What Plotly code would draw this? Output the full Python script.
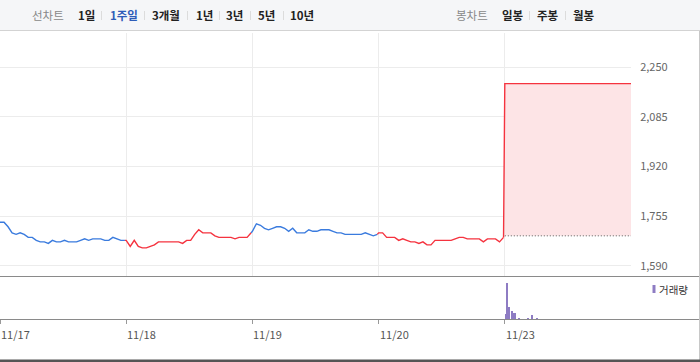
import plotly.graph_objects as go

# ---------------- data ----------------
dates = ['11/17', '11/18', '11/19', '11/20', '11/23']
day1 = [1735, 1735, 1720, 1700, 1695, 1700, 1695, 1685, 1685, 1675, 1670, 1670, 1665, 1675, 1670, 1670,
        1675, 1670, 1670, 1670, 1675, 1680, 1675, 1680, 1680, 1680, 1675, 1675, 1685, 1680, 1675, 1675]
day2 = [1675, 1655, 1675, 1655, 1650, 1650, 1655, 1660, 1670, 1670, 1670, 1670, 1670, 1670, 1665, 1675,
        1675, 1695, 1710, 1700, 1700, 1700, 1690, 1685, 1685, 1685, 1685, 1680, 1685, 1685, 1685, 1700]
day3 = [1705, 1730, 1725, 1715, 1710, 1715, 1720, 1720, 1715, 1705, 1715, 1700, 1700, 1700, 1710, 1705,
        1705, 1710, 1710, 1710, 1705, 1700, 1700, 1695, 1695, 1695, 1695, 1695, 1700, 1695, 1690, 1695]
day4 = [1700, 1700, 1685, 1685, 1685, 1675, 1680, 1675, 1670, 1670, 1665, 1670, 1660, 1660, 1675, 1675,
        1675, 1675, 1675, 1680, 1685, 1685, 1680, 1680, 1680, 1680, 1670, 1680, 1680, 1680, 1670, 1685]
day5 = [2195, 2195, 2195, 2195]
days = [day1, day2, day3, day4, day5]
day_colors = ['#3a7bde', '#f5333f', '#3a7bde', '#f5333f', '#f5333f']
prev_close = 1690

price_ticks = [1590, 1755, 1920, 2085, 2250]
price_labels = ['1,590', '1,755', '1,920', '2,085', '2,250']

vol_minutes = [4, 8, 14, 22, 26, 31, 45, 73, 85, 100]
vol_values = [130, 1000, 340, 230, 160, 160, 20, 20, 110, 20]
minutes_per_day = 390

# ---------------- geometry helpers ----------------
W, H = 700, 362
def py(px):
    return 1 - px / H
def pxx(px):
    return px / W

plot_right = 631
main_top, main_bottom = 33, 276
vol_top, vol_bottom = 277, 319

fig = go.Figure()

last_d = len(days) - 1
# previous close dotted baseline for current day
fig.add_trace(go.Scatter(x=[last_d, last_d + 1], y=[prev_close, prev_close], mode='lines',
                         line=dict(color='#555555', width=1, dash='1px,2px'),
                         hoverinfo='skip', showlegend=False, xaxis='x', yaxis='y'))
# fill of current day
x_last = [last_d + i / (len(day5) - 1) for i in range(len(day5))]
fig.add_trace(go.Scatter(x=x_last, y=day5, mode='lines', fill='tonexty', fillcolor='#fde4e6',
                         line=dict(width=0, color='rgba(0,0,0,0)'), hoverinfo='skip',
                         showlegend=False, xaxis='x', yaxis='y'))

prev_pt = None
for d, vals in enumerate(days):
    n = len(vals)
    span = 1.0 if d == last_d else 0.99
    xs = [d + span * i / (n - 1) for i in range(n)]
    ys = list(vals)
    if prev_pt is not None:
        xs = [prev_pt[0]] + xs
        ys = [prev_pt[1]] + ys
    fig.add_trace(go.Scatter(x=xs, y=ys, mode='lines',
                             line=dict(color=day_colors[d], width=1.4),
                             showlegend=False, xaxis='x', yaxis='y'))
    prev_pt = (xs[-1], ys[-1])

fig.add_trace(go.Bar(x=[last_d + m / minutes_per_day for m in vol_minutes], y=vol_values,
                     width=0.008, marker=dict(color='#8e7cc3', line=dict(width=0)),
                     showlegend=False, xaxis='x2', yaxis='y2'))

shapes = []
# header background
shapes.append(dict(type='rect', xref='paper', yref='paper', x0=0, x1=1, y0=py(30), y1=1,
                   fillcolor='#f5f6f8', line=dict(width=0), layer='below'))
shapes.append(dict(type='line', xref='paper', yref='paper', x0=0, x1=1, y0=py(30.5), y1=py(30.5),
                   line=dict(color='#d3d3d3', width=1)))
# panel separators
for yy in [276.5, 319.5]:
    shapes.append(dict(type='line', xref='paper', yref='paper', x0=0, x1=1, y0=py(yy), y1=py(yy),
                       line=dict(color='#8a8a8a', width=1)))
# right border
shapes.append(dict(type='line', xref='paper', yref='paper', x0=pxx(699.5), x1=pxx(699.5),
                   y0=py(31), y1=py(360), line=dict(color='#c8c8c8', width=1)))
# bottom dark bar
shapes.append(dict(type='rect', xref='paper', yref='paper', x0=0, x1=1, y0=0, y1=py(359.5),
                   fillcolor='#555555', line=dict(width=0)))
# header separators
for sx in [101.5, 144.5, 187.5, 219.5, 250.5, 283.5, 529.5, 565.5]:
    shapes.append(dict(type='line', xref='paper', yref='paper', x0=pxx(sx), x1=pxx(sx),
                       y0=py(11), y1=py(20), line=dict(color='#dcdcdc', width=1)))
# volume legend marker
shapes.append(dict(type='rect', xref='paper', yref='paper', x0=pxx(652.5), x1=pxx(655.5),
                   y0=py(293), y1=py(285), fillcolor='#8e7cc3', line=dict(width=0)))

annotations = []
hdr = [('선차트', 48, '#888888', False), ('1일', 86, '#222222', True), ('1주일', 123.5, '#2e5cb8', True),
       ('3개월', 166, '#222222', True), ('1년', 204, '#222222', True), ('3년', 234.5, '#222222', True),
       ('5년', 266.5, '#222222', True), ('10년', 301.5, '#222222', True),
       ('봉차트', 472, '#888888', False), ('일봉', 512.5, '#222222', True),
       ('주봉', 547.5, '#222222', True), ('월봉', 583.5, '#222222', True)]
for t, cx, col, b in hdr:
    annotations.append(dict(text=f'<b>{t}</b>' if b else t, x=pxx(cx), y=py(15), xref='paper', yref='paper',
                            xanchor='center', yanchor='middle', showarrow=False,
                            font=dict(size=11.5, color=col)))
annotations.append(dict(text='거래량', x=pxx(657), y=py(289), xref='paper', yref='paper',
                        xanchor='left', yanchor='middle', showarrow=False,
                        font=dict(size=10.5, color='#333333')))
# date labels, left-aligned at their tick
for i, t in enumerate(dates):
    annotations.append(dict(text=t, x=i, y=py(324), xref='x2', yref='paper',
                            xanchor='left', yanchor='top', showarrow=False, xshift=-1,
                            font=dict(size=11, color='#555555')))

fig.update_layout(
    width=W, height=H,
    margin=dict(l=0, r=0, t=0, b=0),
    paper_bgcolor='white', plot_bgcolor='white',
    font=dict(family='Noto Sans CJK KR, sans-serif'),
    showlegend=False,
    xaxis=dict(domain=[0, pxx(plot_right)], range=[0, 5], tickvals=list(range(len(dates))),
               showticklabels=False, showgrid=True, gridcolor='#ececec', gridwidth=1,
               zeroline=False, showline=False, ticks='', anchor='y', fixedrange=True),
    yaxis=dict(domain=[py(main_bottom), py(main_top)], range=[1556.8, 2362.8], side='right',
               tickvals=price_ticks, ticktext=price_labels, showgrid=True, gridcolor='#ececec',
               zeroline=False, showline=False, ticks='outside', ticklen=6,
               tickcolor='rgba(0,0,0,0)', tickfont=dict(size=11, color='#666666'), anchor='x'),
    xaxis2=dict(domain=[0, pxx(plot_right)], range=[0, 5], tickvals=list(range(len(dates))),
                showticklabels=False, ticks='outside', ticklen=4, tickcolor='#999999',
                showgrid=False, zeroline=False, showline=False, anchor='y2'),
    yaxis2=dict(domain=[py(vol_bottom), py(vol_top)], range=[0, 1157], showticklabels=False,
                showgrid=False, zeroline=False, showline=False, anchor='x2'),
    shapes=shapes, annotations=annotations,
    bargap=0,
)

fig.write_html('out.html')
